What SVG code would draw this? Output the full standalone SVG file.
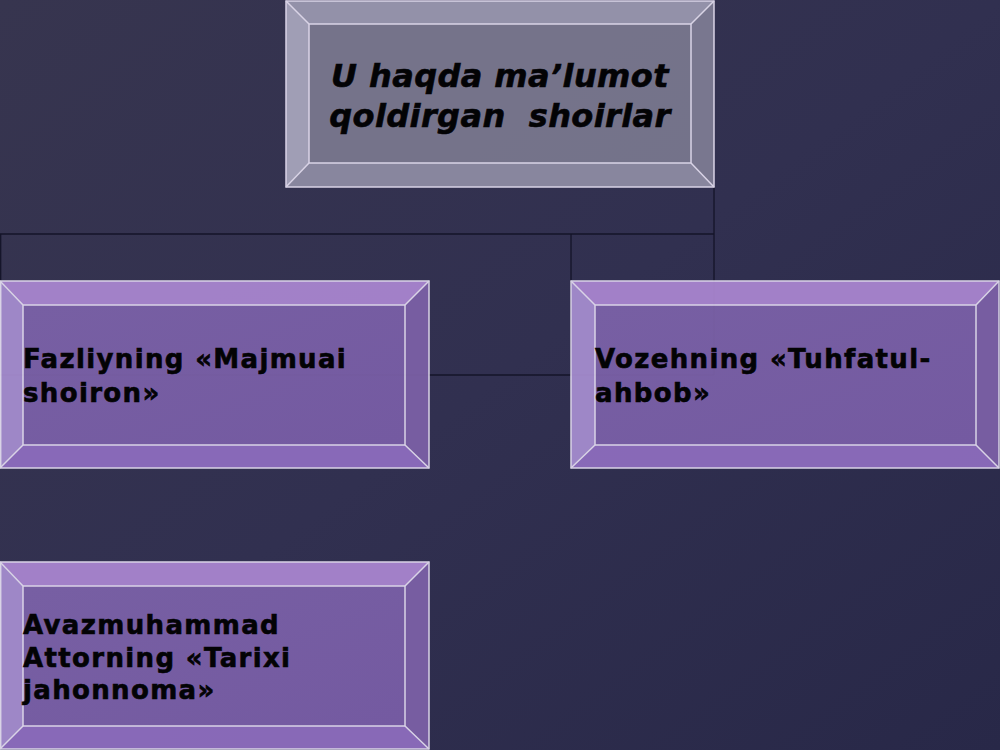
<svg xmlns="http://www.w3.org/2000/svg" width="1000" height="750" viewBox="0 0 1000 750">
  <defs>
    <linearGradient id="bg" x1="0" y1="0" x2="1" y2="1">
      <stop offset="0" stop-color="#37354f"/>
      <stop offset="0.5" stop-color="#313050"/>
      <stop offset="1" stop-color="#282848"/>
    </linearGradient>
    <linearGradient id="pface" x1="0" y1="0" x2="1" y2="1">
      <stop offset="0" stop-color="#7d63aa"/>
      <stop offset="1" stop-color="#7a5ea8"/>
    </linearGradient>
  </defs>
  <style>
    .edge { stroke: #e6e0f2; stroke-width: 1.5; fill: none; }
    .conn { stroke: #141428; stroke-width: 1.3; fill: none; }
    .gtop { fill: #9b99b0; } .gleft { fill: #a9a7bd; } .gright { fill: #7f7d94; } .gbot { fill: #8f8da4; } .gface { fill: #7a788f; }
    .ptop { fill: #ab87d2; } .pleft { fill: #a78ed1; } .pright { fill: #7d61a8; } .pbot { fill: #8f6ec0; } .pface { fill: url(#pface); }
    .box { opacity: 0.93; }
    .t { font-family: "DejaVu Sans", Verdana, sans-serif; font-weight: bold; fill: #000; stroke: #000; stroke-width: 0.6; }
    .s { font-size: 26px; letter-spacing: 1.35px; }
  </style>
  <rect x="0" y="0" width="1000" height="750" fill="url(#bg)"/>

  <g id="connectors">
    <polyline class="conn" points="714,187 714,375"/>
    <polyline class="conn" points="0,234 714,234"/>
    <polyline class="conn" points="571,234 571,375"/>
    <polyline class="conn" points="0,375 714,375"/>
    <polyline class="conn" points="0.7,234 0.7,281"/>
  </g>

  <g id="node-top" class="box">
    <polygon class="gtop" points="286,1 714,1 691,24 309,24"/>
    <polygon class="gleft" points="286,1 309,24 309,163 286,187"/>
    <polygon class="gright" points="714,1 714,187 691,163 691,24"/>
    <polygon class="gbot" points="286,187 309,163 691,163 714,187"/>
    <rect class="gface" x="309" y="24" width="382" height="139"/>
    <rect class="edge" x="286" y="1" width="428" height="186"/>
    <rect class="edge" x="309" y="24" width="382" height="139"/>
    <path class="edge" d="M286,1 L309,24 M714,1 L691,24 M286,187 L309,163 M714,187 L691,163"/>
    <text class="t" font-size="32" letter-spacing="0.4" font-style="italic" text-anchor="middle" x="500" y="87">U haqda ma’lumot</text>
    <text class="t" font-size="32" letter-spacing="0.4" font-style="italic" text-anchor="middle" x="500" y="127" xml:space="preserve">qoldirgan  shoirlar</text>
  </g>

  <g id="node-fazliy" class="box">
    <polygon class="ptop" points="0,281 429,281 405,305 23,305"/>
    <polygon class="pleft" points="0,281 23,305 23,445 0,468"/>
    <polygon class="pright" points="429,281 429,468 405,445 405,305"/>
    <polygon class="pbot" points="0,468 23,445 405,445 429,468"/>
    <rect class="pface" x="23" y="305" width="382" height="140"/>
    <rect class="edge" x="0.7" y="281" width="428.3" height="187"/>
    <rect class="edge" x="23" y="305" width="382" height="140"/>
    <path class="edge" d="M0,281 L23,305 M429,281 L405,305 M0,468 L23,445 M429,468 L405,445"/>
    <text class="t s" x="23" y="368">Fazliyning «Majmuai</text>
    <text class="t s" x="23" y="402">shoiron»</text>
  </g>

  <g id="node-vozeh" class="box">
    <polygon class="ptop" points="571,281 999,281 976,305 595,305"/>
    <polygon class="pleft" points="571,281 595,305 595,445 571,468"/>
    <polygon class="pright" points="999,281 999,468 976,445 976,305"/>
    <polygon class="pbot" points="571,468 595,445 976,445 999,468"/>
    <rect class="pface" x="595" y="305" width="381" height="140"/>
    <rect class="edge" x="571" y="281" width="428" height="187"/>
    <rect class="edge" x="595" y="305" width="381" height="140"/>
    <path class="edge" d="M571,281 L595,305 M999,281 L976,305 M571,468 L595,445 M999,468 L976,445"/>
    <text class="t s" x="595" y="368">Vozehning «Tuhfatul-</text>
    <text class="t s" x="595" y="402">ahbob»</text>
  </g>

  <g id="node-avaz" class="box">
    <polygon class="ptop" points="0,562 429,562 405,586 23,586"/>
    <polygon class="pleft" points="0,562 23,586 23,726 0,749"/>
    <polygon class="pright" points="429,562 429,749 405,726 405,586"/>
    <polygon class="pbot" points="0,749 23,726 405,726 429,749"/>
    <rect class="pface" x="23" y="586" width="382" height="140"/>
    <rect class="edge" x="0.7" y="562" width="428.3" height="187"/>
    <rect class="edge" x="23" y="586" width="382" height="140"/>
    <path class="edge" d="M0,562 L23,586 M429,562 L405,586 M0,749 L23,726 M429,749 L405,726"/>
    <text class="t s" x="23" y="634">Avazmuhammad</text>
    <text class="t s" x="23" y="667">Attorning «Tarixi</text>
    <text class="t s" x="23" y="699">jahonnoma»</text>
  </g>
</svg>
